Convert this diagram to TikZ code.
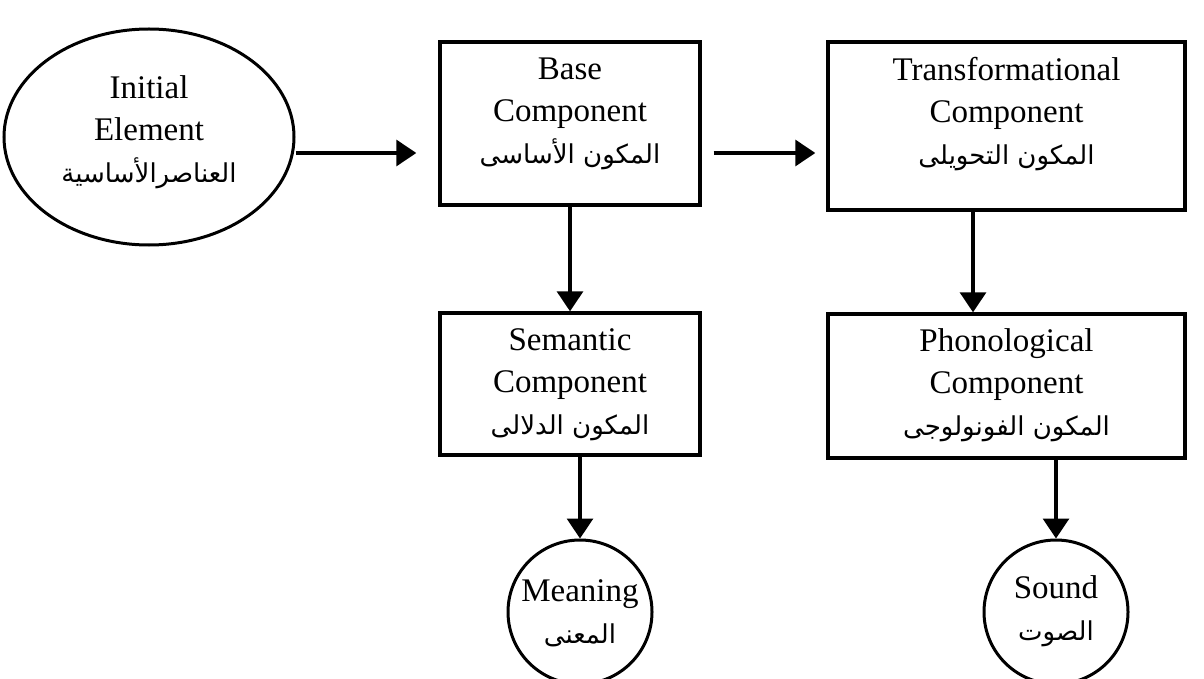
\documentclass[tikz,border=0pt]{standalone}
\usepackage{fontspec}
\setmainfont{Liberation Serif}
\newfontfamily\arabicfont[Script=Arabic]{DejaVu Sans}
\TeXXeTstate=1
\usetikzlibrary{shapes.geometric,arrows.meta}
\newcommand{\ar}[1]{{\arabicfont\fontsize{26}{30}\selectfont\beginR #1\endR}}
\begin{document}
\begin{tikzpicture}[x=1pt,y=-1pt,
  every node/.style={font=\fontsize{33}{42}\selectfont, align=center, inner sep=0pt},
  compbox/.style={draw, line width=3.4pt, minimum width=#1, text width=#1},
  roundnode/.style={draw, circle, line width=3pt, minimum size=144pt},
  ellnode/.style={draw, ellipse, line width=3pt, minimum width=290pt, minimum height=216pt},
  arr/.style={line width=3.2pt, -{Triangle[length=20pt,width=26pt]}}]
\useasboundingbox (0,0) rectangle (1204,679);
\node[ellnode] (ell) at (149,137) {};
\node at (149,132) {Initial\\Element\\\ar{العناصرالأساسية}};
\node[compbox=260pt, minimum height=163pt] (base) at (570,123.5) {};
\node at (570,114) {Base\\Component\\\ar{المكون الأساسى}};
\node[compbox=357pt, minimum height=168pt] (trans) at (1006.5,126) {};
\node at (1006.5,114) {Transformational\\Component\\\ar{المكون التحويلى}};
\node[compbox=260pt, minimum height=142pt] (sem) at (570,384) {};
\node at (570,385) {Semantic\\Component\\\ar{المكون الدلالى}};
\node[compbox=357pt, minimum height=144pt] (phon) at (1006.5,386) {};
\node at (1006.5,385) {Phonological\\Component\\\ar{المكون الفونولوجى}};
\node[roundnode] (mean) at (580,612) {};
\node at (580,613) {Meaning\\\ar{المعنى}};
\node[roundnode] (sound) at (1056,612) {};
\node at (1056,611) {Sound\\\ar{الصوت}};
\coordinate (ay) at (0,153);
\draw[arr] (ell.east |- ay) -- ([xshift=-22pt]base.west |- ay);
\draw[arr] ([xshift=12pt]base.east |- ay) -- ([xshift=-11pt]trans.west |- ay);
\draw[arr] (base.south) -- (sem.north);
\draw[arr] (trans.south -| 973,0) -- (phon.north -| 973,0);
\draw[arr] (sem.south -| mean) -- (mean.north);
\draw[arr] (phon.south -| sound) -- (sound.north);
\end{tikzpicture}
\end{document}
